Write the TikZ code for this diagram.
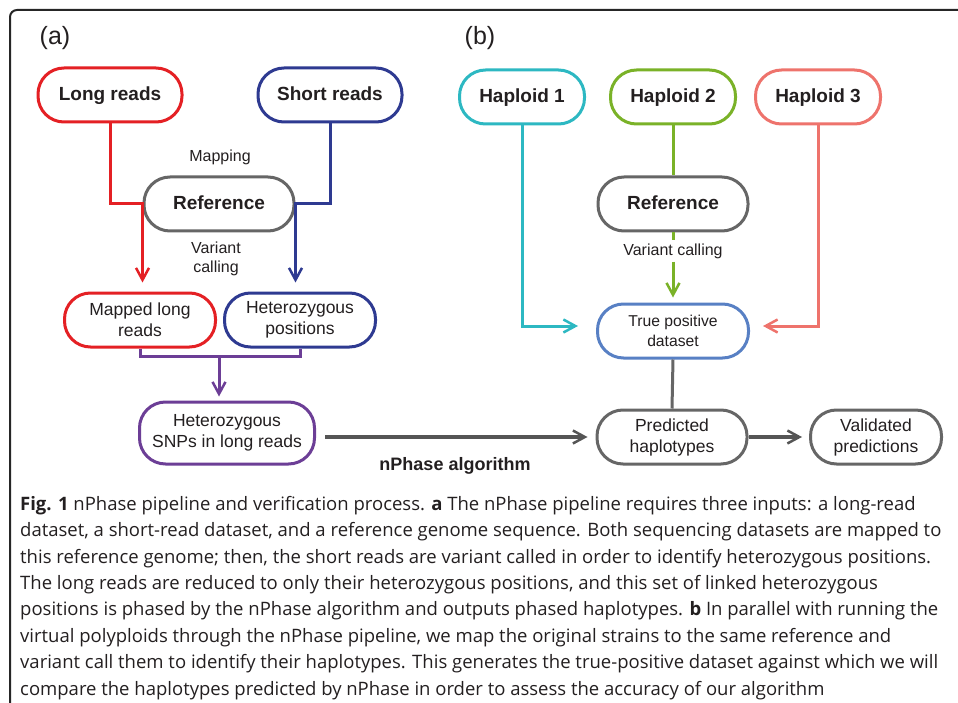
\documentclass[tikz,border=0pt]{standalone}
\usepackage{fontspec}
\setmainfont{Liberation Sans}
\newfontfamily\capfont{Open Sans}
\usepackage{tikz}
\usetikzlibrary{positioning,arrows.meta}
\definecolor{lrred}{RGB}{228,32,36}
\definecolor{srblue}{RGB}{46,58,145}
\definecolor{refgray}{RGB}{102,102,102}
\definecolor{snppurple}{RGB}{108,62,150}
\definecolor{hapcyan}{RGB}{45,184,194}
\definecolor{hapgreen}{RGB}{122,178,40}
\definecolor{hapsalmon}{RGB}{238,115,108}
\definecolor{tpblue}{RGB}{88,128,196}
\definecolor{flowgray}{RGB}{85,85,85}
\definecolor{textdark}{RGB}{35,31,32}
\tikzset{
  pill/.style={draw, line width=3pt, rounded corners=26pt, minimum height=54pt,
    align=center, fill=white, inner sep=2pt, text=textdark},
  pillhead/.style={pill, font=\fontsize{19}{22}\selectfont\bfseries, text height=13.5pt, text depth=3.3pt},
  pilltext/.style={pill, font=\fontsize{17.5}{21}\selectfont},
  steplabel/.style={font=\fontsize{16}{19}\selectfont, align=center, text=textdark, inner sep=3pt},
  panellabel/.style={font=\fontsize{25}{28}\selectfont, text=textdark},
  link/.style={line width=3pt},
  flow/.style={link, -{Straight Barb[length=12pt, width=13pt, line width=2.5pt]}},
  bigflow/.style={flow, draw=flowgray, line width=4.5pt},
}

\begin{document}
\begin{tikzpicture}[x=1pt, y=-1pt]
  \useasboundingbox (0,0) rectangle (958,703);
  % frame
  \draw[line width=2pt, draw=black!85, rounded corners=7pt] (958,10) -- (10,10) -- (10,703);
  \node[panellabel] (pa) at (55,38) {(a)};
  \node[panellabel] (pb) at (480,38) {(b)};

  % (a) pipeline
  \node[pillhead, draw=lrred, minimum width=144pt] (longr) at (110,95) {Long reads};
  \node[pillhead, draw=srblue, minimum width=144pt] (shortr) at (330,95) {Short reads};
  \node[pillhead, draw=refgray, minimum width=150pt] (refa) at (219,204) {Reference};
  \node[pilltext, draw=lrred, minimum width=151pt] (mapped) at (140,320) {Mapped long\\reads};
  \node[pilltext, draw=srblue, minimum width=151pt] (hetpos) at (300,320) {Heterozygous\\positions};
  \node[pilltext, draw=snppurple, minimum width=175pt, minimum height=62pt] (snps) at (227,433)
    {Heterozygous\\SNPs in long reads};
  \node[steplabel] (mapl) at (220,157) {Mapping};
  \node[steplabel] (vcla) at (216,259) {Variant\\calling};
  \coordinate (snpjoin) at (219,356);

  \draw[flow, lrred, shorten >=9pt] (longr.south) |- (refa.west) -- (refa.west |- mapped.north);
  \draw[flow, srblue, shorten >=9pt] (shortr.south) |- (refa.east) -- (refa.east |- hetpos.north);
  \draw[link, snppurple] (mapped.south) |- (snpjoin) -| (hetpos.south);
  \draw[flow, snppurple, shorten >=4pt] (snpjoin) -- (snpjoin |- snps.north);

  % (b) verification
  \node[pillhead, draw=hapcyan, minimum width=125pt] (hap1) at (522,97) {Haploid 1};
  \node[pillhead, draw=hapgreen, minimum width=125pt] (hap2) at (673,97) {Haploid 2};
  \node[pillhead, draw=hapsalmon, minimum width=125pt] (hap3) at (818,97) {Haploid 3};
  \node[pillhead, draw=refgray, minimum width=150pt] (refb) at (673,204) {Reference};
  \node[steplabel] (vclb) at (673,251) {Variant calling};
  \node[pilltext, draw=tpblue, minimum width=151pt, font=\fontsize{15.7}{20}\selectfont] (tp) at (673,331)
    {True positive\\dataset};
  \node[pilltext, draw=refgray, minimum width=150pt] (pred) at (672,437) {Predicted\\haplotypes};
  \node[pilltext, draw=refgray, minimum width=131pt] (valid) at (876,437) {Validated\\predictions};
  \node[steplabel, font=\fontsize{18}{21}\selectfont\bfseries] (nphase) at (455,466) {nPhase algorithm};

  \draw[link, hapgreen] (hap2.south) -- (refb.north);
  \draw[link, hapgreen] (refb.south) -- (vclb.north);
  \draw[flow, hapgreen, shorten >=5pt] (vclb.south) -- (tp.north);
  \draw[flow, hapcyan, shorten >=18pt] (hap1.south) |- ([yshift=5pt]tp.west);
  \draw[flow, hapsalmon, shorten >=13pt] (hap3.south) |- ([yshift=5pt]tp.east);
  \draw[link, refgray] (tp.south) -- (pred.north);
  \draw[bigflow, shorten <=9pt, shorten >=8pt] (snps.east |- pred.west) -- (pred.west);
  \draw[flow, flowgray, line width=4pt, shorten >=7pt] (pred.east) -- (valid.west);

  % caption (base = last line)
  \node[anchor=base west, align=left, inner sep=0pt, text=textdark,
    font=\capfont\fontsize{18.5}{26.4}\selectfont] (caption) at (20,695)
    {\textbf{Fig. 1} nPhase pipeline and verification process. \textbf{a} The nPhase pipeline requires three inputs: a long-read\\
     dataset, a short-read dataset, and a reference genome sequence. Both sequencing datasets are mapped to\\
     this reference genome; then, the short reads are variant called in order to identify heterozygous positions.\\
     The long reads are reduced to only their heterozygous positions, and this set of linked heterozygous\\
     positions is phased by the nPhase algorithm and outputs phased haplotypes. \textbf{b} In parallel with running the\\
     virtual polyploids through the nPhase pipeline, we map the original strains to the same reference and\\
     variant call them to identify their haplotypes. This generates the true-positive dataset against which we will\\
     compare the haplotypes predicted by nPhase in order to assess the accuracy of our algorithm};
\end{tikzpicture}
\end{document}
